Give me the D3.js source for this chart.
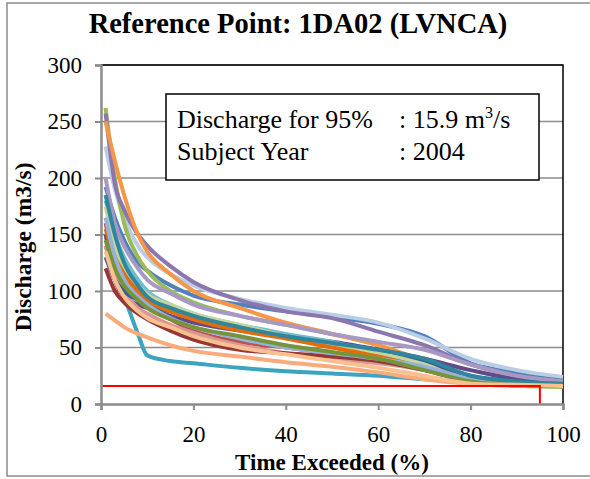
<!DOCTYPE html>
<html>
<head>
<meta charset="utf-8">
<script src="https://cdn.jsdelivr.net/npm/d3@7"></script>
<style>
  body { margin: 0; background: #fff; }
  text { font-family: "Liberation Serif", "Times New Roman", serif; }
</style>
</head>
<body>
<div id="chart"></div>
<script>
// Percent of time exceeded, sampled along each annual duration curve
var exceedPct = [1, 3, 5, 8, 10, 15, 20, 30, 40, 50, 60, 70, 80, 90, 100];

// One discharge series per year (m3/s)
var seriesValues = [
  [192, 165, 145, 125, 118, 105, 96, 88, 82, 77, 71, 60, 36, 28, 22],
  [228, 190, 165, 140, 130, 115, 105, 93, 85, 79, 72, 58, 40, 30, 24],
  [262, 200, 160, 130, 118, 100, 90, 78, 70, 62, 52, 36, 18, 16, 15],
  [257, 195, 172, 150, 140, 122, 108, 92, 82, 76, 64, 52, 35, 25, 20],
  [140, 115, 95, 62, 43, 38, 36, 32, 29, 27, 25, 22, 20, 18, 17],
  [250, 215, 185, 150, 135, 115, 100, 85, 72, 62, 52, 38, 22, 18, 17],
  [160, 125, 110, 95, 88, 75, 65, 55, 50, 45, 42, 35, 22, 18, 17],
  [80, 74, 68, 62, 59, 52, 47, 42, 37, 33, 28, 22, 18, 17, 17],
  [150, 110, 95, 88, 85, 78, 72, 65, 60, 55, 48, 40, 30, 22, 19],
  [180, 150, 130, 110, 100, 88, 80, 70, 62, 55, 45, 32, 20, 17, 16],
  [140, 115, 100, 85, 80, 70, 63, 52, 45, 40, 36, 30, 20, 17, 16],
  [130, 110, 100, 92, 88, 82, 77, 68, 60, 52, 45, 38, 25, 20, 18],
  [175, 140, 120, 105, 97, 88, 80, 70, 60, 52, 45, 35, 20, 17, 16],
  [200, 160, 140, 120, 110, 98, 88, 78, 70, 62, 55, 48, 35, 25, 20],
  [120, 100, 90, 80, 75, 65, 57, 48, 45, 42, 38, 30, 20, 17, 16],
  [155, 130, 115, 100, 92, 82, 75, 65, 58, 50, 42, 32, 20, 17, 16],
  [165, 130, 110, 95, 88, 76, 68, 58, 50, 45, 40, 33, 22, 18, 17],
  [145, 120, 105, 92, 85, 75, 68, 60, 52, 46, 40, 30, 20, 17, 16],
  [185, 150, 125, 105, 95, 85, 78, 68, 60, 54, 48, 40, 25, 20, 18],
  [135, 110, 95, 82, 76, 68, 60, 50, 44, 38, 32, 25, 18, 17, 16]
];

var seriesColors = [
  '#4F81BD', '#B9CDE5', '#9BBB59', '#8C76B0', '#3DA3BE', '#F79646',
  '#C0504D', '#F9AB7B', '#5F4B8B', '#6FBDD1', '#D99694', '#376092',
  '#C3D69B', '#A898C4', '#953735', '#E46C0A', '#95B3D7', '#77933C',
  '#31859C', '#FAC090'
];

// Reference flow (95% exceedance)
var refPct = 95;
var refQ = 15.9;

var xTicks = [0, 20, 40, 60, 80, 100];
var yTicks = [0, 50, 100, 150, 200, 250, 300];

var width = 590, height = 479;
var margin = {top: 65, right: 27, bottom: 75, left: 101};
var plotW = width - margin.left - margin.right;
var plotH = height - margin.top - margin.bottom;

var svg = d3.select('#chart').append('svg')
  .attr('width', width)
  .attr('height', height);

// outer chart border (right edge falls off the picture)
svg.append('rect')
  .attr('x', 7).attr('y', 3)
  .attr('width', 590).attr('height', 473)
  .attr('fill', 'none')
  .attr('stroke', '#8c8c8c')
  .attr('stroke-width', 1.5);

var x = d3.scaleLinear().domain([0, 100]).range([0, plotW]);
var y = d3.scaleLinear().domain([0, 300]).range([plotH, 0]);

var g = svg.append('g')
  .attr('transform', 'translate(' + margin.left + ',' + margin.top + ')');

// gridlines
g.selectAll('line.grid')
  .data(yTicks.slice(1))
  .enter().append('line')
    .attr('class', 'grid')
    .attr('x1', 0).attr('x2', plotW)
    .attr('y1', function(d) { return y(d); })
    .attr('y2', function(d) { return y(d); })
    .attr('stroke', '#8c8c8c')
    .attr('stroke-width', 1.5);

// plot area top and right border
g.append('path')
  .attr('d', 'M0,' + y(300) + 'H' + x(100) + 'V' + y(0))
  .attr('fill', 'none')
  .attr('stroke', '#000')
  .attr('stroke-width', 1.5);

var line = d3.line()
  .x(function(d) { return x(d[0]); })
  .y(function(d) { return y(d[1]); })
  .curve(d3.curveMonotoneX);

g.selectAll('path.series')
  .data(seriesValues)
  .enter().append('path')
    .attr('class', 'series')
    .attr('d', function(vals) {
      return line(vals.map(function(v, i) { return [exceedPct[i], v]; }));
    })
    .attr('fill', 'none')
    .attr('stroke', function(d, i) { return seriesColors[i]; })
    .attr('stroke-width', 4)
    .attr('stroke-linejoin', 'round');

// reference line
g.append('path')
  .attr('d', line.curve(d3.curveLinear)([[0, refQ], [refPct, refQ], [refPct, 0]]))
  .attr('fill', 'none')
  .attr('stroke', '#ff0000')
  .attr('stroke-width', 2);

// axes
var xAxis = g.append('g')
  .attr('transform', 'translate(0,' + plotH + ')')
  .call(d3.axisBottom(x).tickValues(xTicks).tickSize(6).tickPadding(16));
var yAxis = g.append('g')
  .call(d3.axisLeft(y).tickValues(yTicks).tickSize(6).tickPadding(13));

[xAxis, yAxis].forEach(function(a) {
  a.select('.domain').attr('stroke', '#8c8c8c').attr('stroke-width', 2.5);
  a.selectAll('.tick line').attr('stroke', '#8c8c8c').attr('stroke-width', 2);
  a.selectAll('.tick text')
    .attr('fill', '#000')
    .style('font-family', '"Liberation Serif", serif')
    .style('font-size', '23px');
});

// titles
svg.append('text')
  .attr('x', 298).attr('y', 33)
  .attr('text-anchor', 'middle')
  .style('font-size', '28.5px').style('font-weight', 'bold')
  .text('Reference Point: 1DA02 (LVNCA)');

svg.append('text')
  .attr('x', margin.left + plotW / 2).attr('y', 470)
  .attr('text-anchor', 'middle')
  .style('font-size', '23px').style('font-weight', 'bold')
  .text('Time Exceeded (%)');

svg.append('text')
  .attr('transform', 'translate(31,247) rotate(-90)')
  .attr('text-anchor', 'middle')
  .style('font-size', '23.5px').style('font-weight', 'bold')
  .text('Discharge (m3/s)');

// info box
var box = svg.append('g');
box.append('rect')
  .attr('x', 166).attr('y', 94)
  .attr('width', 373).attr('height', 86)
  .attr('fill', '#fff')
  .attr('stroke', '#000')
  .attr('stroke-width', 1.5);

box.append('text').attr('x', 177).attr('y', 128).style('font-size', '26px')
  .text('Discharge for 95%');
var t1b = box.append('text').attr('x', 399).attr('y', 128).style('font-size', '26px');
t1b.append('tspan').text(': ' + refQ + ' m');
t1b.append('tspan').attr('dy', -10).style('font-size', '16px').text('3');
t1b.append('tspan').attr('dy', 10).text('/s');

box.append('text').attr('x', 177).attr('y', 160).style('font-size', '26px').text('Subject Year');
box.append('text').attr('x', 399).attr('y', 160).style('font-size', '26px').text(': 2004');
</script>
</body>
</html>
